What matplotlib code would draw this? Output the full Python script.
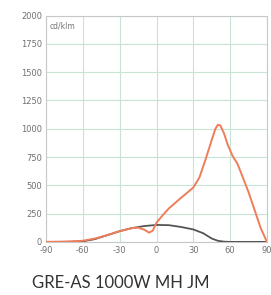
import matplotlib
matplotlib.use("Agg")
import matplotlib.pyplot as plt

plt.rcParams['axes.unicode_minus'] = False

# polar luminous intensity, cd/klm
angles_c0 = [-90, -75, -60, -50, -40, -30, -20, -15, -10, -6, -3, 0, 5, 10, 20, 30, 35, 40, 45,
             48, 50, 52, 55, 58, 62, 66, 70, 75, 80, 85, 90]
values_c0 = [0, 2, 10, 30, 60, 95, 122, 126, 108, 82, 100, 170, 235, 295, 390, 480, 570, 730, 900,
             1000, 1035, 1030, 960, 860, 760, 690, 580, 440, 280, 120, 0]

angles_c90 = [-90, -70, -60, -50, -40, -30, -20, -10, 0, 10, 20, 30, 38, 45, 50, 55, 60, 90]
values_c90 = [0, 1, 5, 25, 60, 95, 122, 140, 150, 148, 132, 110, 77, 30, 10, 2, 0, 0]

x_ticks = [-90, -60, -30, 0, 30, 60, 90]
y_ticks = [0, 250, 500, 750, 1000, 1250, 1500, 1750, 2000]

fig = plt.figure(figsize=(2.71, 2.95), dpi=100)
ax = fig.add_axes([0.170, 0.180, 0.815, 0.767])

ax.plot(angles_c90, values_c90, color='#555555', linewidth=1.3, zorder=3)
ax.plot(angles_c0, values_c0, color='#ef7d5a', linewidth=1.4, zorder=4)

ax.set_xlim(-90, 90)
ax.set_ylim(0, 2000)
ax.set_xticks(x_ticks)
ax.set_yticks(y_ticks)
ax.grid(True, color='#c8e4d2', linewidth=0.8)
ax.set_axisbelow(True)
for s in ax.spines.values():
    s.set_color('#c8c8c8')
    s.set_linewidth(0.8)
ax.tick_params(length=0, pad=3, labelsize=6, labelcolor='#707070')

ax.text(-87, 1950, 'cd/klm', fontsize=5.5, color='#777777', va='top', ha='left')

fig.text(0.118, 0.040, 'GRE-AS 1000W MH JM', fontsize=12, color='#333333',
         family='Lato', ha='left', va='center')

fig.savefig('out.png', dpi=100)
